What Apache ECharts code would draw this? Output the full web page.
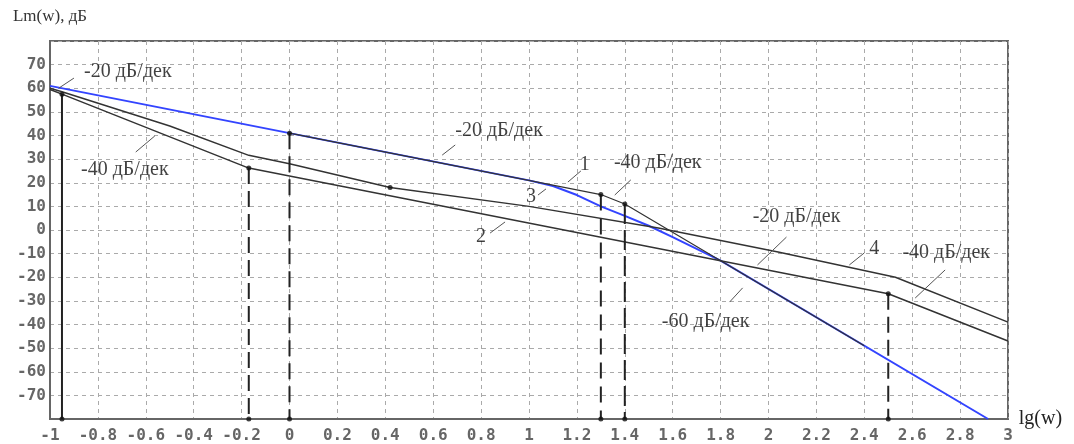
<!DOCTYPE html>
<html>
<head>
<meta charset="utf-8">
<script src="https://cdn.jsdelivr.net/npm/echarts@6/dist/echarts.min.js"></script>
<style>
html,body{margin:0;padding:0;background:#fff;}
#chart{width:1074px;height:444px;}
</style>
</head>
<body>
<div id="chart"></div>
<script>
// ---- data (lg(w), Lm dB) ----
const xMin = -1, xMax = 3, xStep = 0.2;
const yMin = -80, yMax = 80, yStep = 10;

const curve3 = [[-1,61],[0,41],[1,21],[1.1,18.6],[1.2,14.8],[1.3,10],[1.4,6],[1.5,1.8],[1.6,-3],[1.7,-8],[1.8,-13],[2.917,-80]];
const curve1 = [[0,41],[1.3,15],[1.4,11],[2.4,-49]];
const curve2 = [[-1,59.5],[-0.95,57.5],[-0.17,26.2],[2.5,-27],[3,-47]];
const curve4 = [[-1,60],[-0.95,58.5],[-0.5,44],[-0.17,31.6],[0,28],[0.42,18],[1,10],[1.54,0.8],[2.04,-9.3],[2.53,-20],[3,-39]];

const markerX   = [-0.95, -0.17, 0, 1.3, 1.4, 2.5];
const markerTop = [57.5, 26.2, 41, 15, 11, -27];
const extraDots = [[0.42,18]];

const noteText = ['-20 дБ/дек','-40 дБ/дек','-20 дБ/дек','-40 дБ/дек','-20 дБ/дек','-40 дБ/дек','-60 дБ/дек','1','3','2','4'];
const noteX    = [-0.675,-0.6875,0.875,1.5375,2.117,2.742,1.7375,1.233,1.008,0.8,2.442];
const noteY    = [66.9,25.4,41.9,28.4,5.5,-9.7,-38.9,27.5,14,-3,-8];

const leaders = [
  [[-0.9625,60.1],[-0.9,64.3]],
  [[-0.642,33.0],[-0.5625,39.8]],
  [[0.6375,31.7],[0.692,36.0]],
  [[1.1625,20.3],[1.2167,25.0]],
  [[1.0375,14.8],[1.071,17.4]],
  [[1.358,14.8],[1.425,21.2]],
  [[0.8375,-1.3],[0.9,3.4]],
  [[1.954,-14.8],[2.075,-3.0]],
  [[2.3375,-14.8],[2.4,-9.7]],
  [[2.6125,-28.8],[2.7375,-16.9]],
  [[1.8375,-30.5],[1.892,-24.5]]
];

// ---- styles ----
const dark = '#333';
const markerDashPattern = [null,[16,7],[16,7],[16,8],[20,6],[16,7]];

const chart = echarts.init(document.getElementById('chart'));
const series = [];

series.push({type:'line', data:curve3, symbol:'none', z:3,
  lineStyle:{color:'#3344ff', width:2}, silent:true});
series.push({type:'line', data:curve1, symbol:'none', z:4,
  lineStyle:{color:dark, width:1.2}, silent:true});
series.push({type:'line', data:curve2, symbol:'none', z:4,
  lineStyle:{color:dark, width:1.5}, silent:true});
series.push({type:'line', data:curve4, symbol:'none', z:4,
  lineStyle:{color:dark, width:1.5}, silent:true});

markerX.forEach((x,i)=>{
  series.push({type:'line', data:[[x,markerTop[i]],[x,yMin]], symbol:'none', z:5,
    lineStyle:{color:'#222', width:2, type: markerDashPattern[i] || 'solid'}, silent:true});
});

leaders.forEach(seg=>{
  series.push({type:'line', data:seg, symbol:'none', z:5,
    lineStyle:{color:'#555', width:1}, silent:true});
});

const dots = [];
markerX.forEach((x,i)=>{ dots.push([x,markerTop[i]]); dots.push([x,yMin]); });
extraDots.forEach(d=>dots.push(d));
series.push({type:'scatter', data:dots, symbol:'circle', symbolSize:5, z:6,
  itemStyle:{color:'#111'}, silent:true});

series.push({type:'scatter', symbolSize:0, z:7, silent:true,
  data: noteText.map((t,i)=>({name:t, value:[noteX[i],noteY[i]]})),
  label:{show:true, position:'inside', formatter:p=>p.name,
    fontFamily:'Liberation Serif', fontSize:20, color:'#111'}});

chart.setOption({
  animation:false,
  backgroundColor:'#fff',
  grid:{left:50, right:66, top:41, bottom:25, show:true, borderColor:'#666', borderWidth:2},
  xAxis:{type:'value', min:xMin, max:xMax, interval:xStep,
    name:'lg(w)', nameLocation:'end', nameGap:8,
    nameTextStyle:{fontFamily:'Liberation Serif', fontSize:20, color:'#222', align:'left', verticalAlign:'middle', padding:[-8,0,0,0]},
    axisLine:{show:true, onZero:false, lineStyle:{color:'#666', width:2}},
    axisTick:{show:false},
    axisLabel:{margin:9, fontFamily:'DejaVu Sans Mono', fontSize:16, fontWeight:'bold', color:'#666',
      formatter:v=>String(+v.toFixed(1))},
    splitLine:{show:true, lineStyle:{color:'#aaa', type:[4,4], width:1}}
  },
  yAxis:{type:'value', min:yMin, max:yMax, interval:yStep,
    name:'Lm(w), дБ', nameLocation:'end', nameGap:16,
    nameTextStyle:{fontFamily:'Liberation Serif', fontSize:17, color:'#333', align:'center'},
    axisLine:{show:true, onZero:false, lineStyle:{color:'#666', width:2}},
    axisTick:{show:false},
    axisLabel:{margin:4, fontFamily:'DejaVu Sans Mono', fontSize:16, fontWeight:'bold', color:'#666',
      showMinLabel:false, showMaxLabel:false},
    splitLine:{show:true, lineStyle:{color:'#aaa', type:[4,4], width:1}}
  },
  series: series
});
</script>
</body>
</html>
